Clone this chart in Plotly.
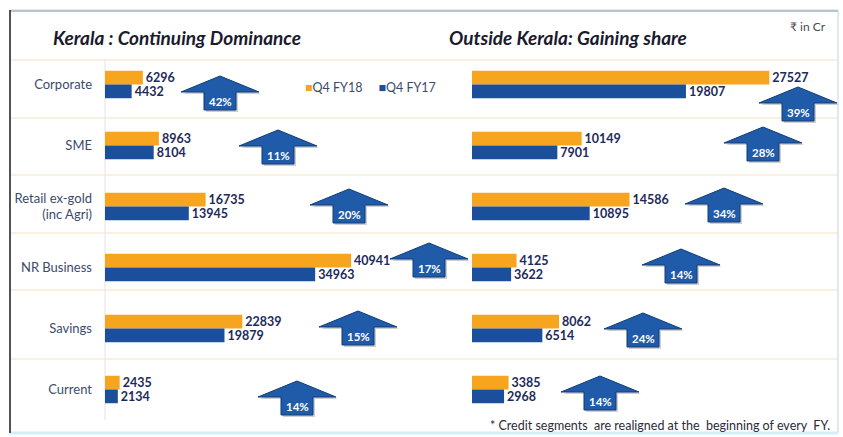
import plotly.graph_objects as go

# ---------------- data ----------------
categories = ["Corporate", "SME", "Retail ex-gold<br>(inc Agri)", "NR Business", "Savings", "Current"]
series_names = ["Q4 FY18", "Q4 FY17"]
kerala_fy18 = [6296, 8963, 16735, 40941, 22839, 2435]
kerala_fy17 = [4432, 8104, 13945, 34963, 19879, 2134]
outside_fy18 = [27527, 10149, 14586, 4125, 8062, 3385]
outside_fy17 = [19807, 7901, 10895, 3622, 6514, 2968]
kerala_growth = ["42%", "11%", "20%", "17%", "15%", "14%"]
outside_growth = ["39%", "28%", "34%", "14%", "24%", "14%"]

# ---------------- style / layout constants ----------------
W, H = 843, 437
ORANGE = "#F7A51F"
BLUE = "#1B4F9B"
VAL_COLOR = "#1E2A5A"
LABEL_COLOR = "#3D4B6B"
FONT = "Lato"

def px(x):
    return x / W

def py(y):
    return 1 - y / H

# arrow tip positions (pixels) – decoration placement
kerala_arrow_pos = [(220, 76), (278, 130), (349, 189), (429, 243), (358, 311), (297, 381)]
outside_arrow_pos = [(798, 87), (763, 127), (724, 188), (681, 249), (643, 313), (600, 376)]

fig = go.Figure()

def add_bars(vals18, vals17, xa, ya):
    for name, vals, col in [(series_names[0], vals18, ORANGE), (series_names[1], vals17, BLUE)]:
        fig.add_trace(go.Bar(
            y=categories, x=vals, orientation="h", name=name,
            marker=dict(color=col, line=dict(width=0)),
            text=[str(v) for v in vals], textposition="outside",
            textfont=dict(family=FONT, size=12.5, color=VAL_COLOR, weight="bold"),
            constraintext="none", cliponaxis=False,
            xaxis=xa, yaxis=ya, showlegend=False,
        ))

add_bars(kerala_fy18, kerala_fy17, "x", "y")
add_bars(outside_fy18, outside_fy17, "x2", "y2")

ydom = [py(420), py(54)]

fig.update_layout(
    width=W, height=H,
    margin=dict(l=0, r=0, t=0, b=0),
    paper_bgcolor="white", plot_bgcolor="rgba(0,0,0,0)",
    barmode="group", bargap=0.55, bargroupgap=0,
    showlegend=False,
    font=dict(family=FONT),
    xaxis=dict(domain=[px(105), px(435)], range=[0, 54900], visible=False, fixedrange=True),
    xaxis2=dict(domain=[px(472), px(836)], range=[0, 33700], visible=False, anchor="y2"),
    yaxis=dict(domain=ydom, type="category", autorange="reversed", anchor="x",
               showgrid=False, zeroline=False, showline=False, ticks="",
               ticklabelstandoff=12,
               tickfont=dict(family=FONT, size=13, color=LABEL_COLOR)),
    yaxis2=dict(domain=ydom, type="category", autorange="reversed", anchor="x2",
                showgrid=False, zeroline=False, showline=False, showticklabels=False),
)

shapes = []
# frame
shapes.append(dict(type="rect", xref="paper", yref="paper", x0=px(10), x1=px(838), y0=py(433), y1=py(10),
                   line=dict(color="#C9D2DE", width=1), fillcolor="rgba(0,0,0,0)", layer="below"))
shapes.append(dict(type="line", xref="paper", yref="paper", x0=px(10), x1=px(838), y0=py(11), y1=py(11),
                   line=dict(color="#B8C3D2", width=2)))
shapes.append(dict(type="line", xref="paper", yref="paper", x0=px(10), x1=px(838), y0=py(433), y1=py(433),
                   line=dict(color="#D6EEF7", width=3)))
shapes.append(dict(type="line", xref="paper", yref="paper", x0=px(10), x1=px(10), y0=py(433), y1=py(10),
                   line=dict(color="#2E2E2E", width=1.6)))
# row separators
for yy in [60, 118, 175, 233, 290, 359]:
    shapes.append(dict(type="line", xref="paper", yref="paper", x0=px(11), x1=px(838), y0=py(yy), y1=py(yy),
                       line=dict(color="#F6E2C6", width=1.2), layer="below"))
# left axis line
shapes.append(dict(type="line", xref="paper", yref="paper", x0=px(105), x1=px(105), y0=py(420), y1=py(60),
                   line=dict(color="#E3E3E3", width=1), layer="below"))

annotations = []

def arrow(cx, ty, label):
    hw, hh, sw, sh = 39, 16, 16, 34
    pts = [
        (cx, ty),
        (cx + hw, ty + hh),
        (cx + sw, ty + hh),
        (cx + sw, ty + sh),
        (cx - sw, ty + sh),
        (cx - sw, ty + hh),
        (cx - hw, ty + hh),
    ]
    def path_of(dx, dy):
        s = [f"{px(x + dx):.5f},{py(y + dy):.5f}" for x, y in pts]
        return "M " + " L ".join(s) + " Z"
    shapes.append(dict(type="path", xref="paper", yref="paper", path=path_of(2, 2),
                       fillcolor="rgba(60,60,80,0.25)", line=dict(width=0)))
    shapes.append(dict(type="path", xref="paper", yref="paper", path=path_of(0, 0),
                       fillcolor="#1F5BA8", line=dict(color="#123D78", width=1)))
    annotations.append(dict(xref="paper", yref="paper", x=px(cx), y=py(ty + 25), text=label,
                            showarrow=False, xanchor="center", yanchor="middle",
                            font=dict(family=FONT, size=11.5, color="white", weight="bold")))

for (cx, ty), lab in zip(kerala_arrow_pos, kerala_growth):
    arrow(cx, ty, lab)
for (cx, ty), lab in zip(outside_arrow_pos, outside_growth):
    arrow(cx, ty, lab)

# titles
annotations.append(dict(xref="paper", yref="paper", x=px(51), y=py(37), xanchor="left", yanchor="middle",
                        text="<b><i>Kerala : Continuing Dominance</i></b>", showarrow=False,
                        font=dict(family=FONT, size=19, color="#1B1B2E")))
annotations.append(dict(xref="paper", yref="paper", x=px(447), y=py(37), xanchor="left", yanchor="middle",
                        text="<b><i>Outside Kerala: Gaining share</i></b>", showarrow=False,
                        font=dict(family=FONT, size=19, color="#1B1B2E")))
annotations.append(dict(xref="paper", yref="paper", x=px(828), y=py(26), xanchor="right", yanchor="middle",
                        text="₹ in Cr", showarrow=False,
                        font=dict(family=FONT, size=12, color="#4A4A5A")))
# legend
annotations.append(dict(xref="paper", yref="paper", x=px(303), y=py(87), xanchor="left", yanchor="middle",
                        text=f"<span style='color:{ORANGE}'>■</span>{series_names[0]}\u00a0\u00a0\u00a0\u00a0\u00a0"
                             f"<span style='color:{BLUE}'>■</span>{series_names[1]}",
                        showarrow=False, font=dict(family=FONT, size=12.5, color=LABEL_COLOR)))
# footnote
annotations.append(dict(xref="paper", yref="paper", x=px(832), y=py(425), xanchor="right", yanchor="middle",
                        align="right",
                        text="* Credit segments  are realigned at the  beginning of every  FY.",
                        showarrow=False, font=dict(family=FONT, size=12.5, color="#2B2B3B")))

fig.update_layout(shapes=shapes, annotations=annotations)
fig.write_html("out.html")
